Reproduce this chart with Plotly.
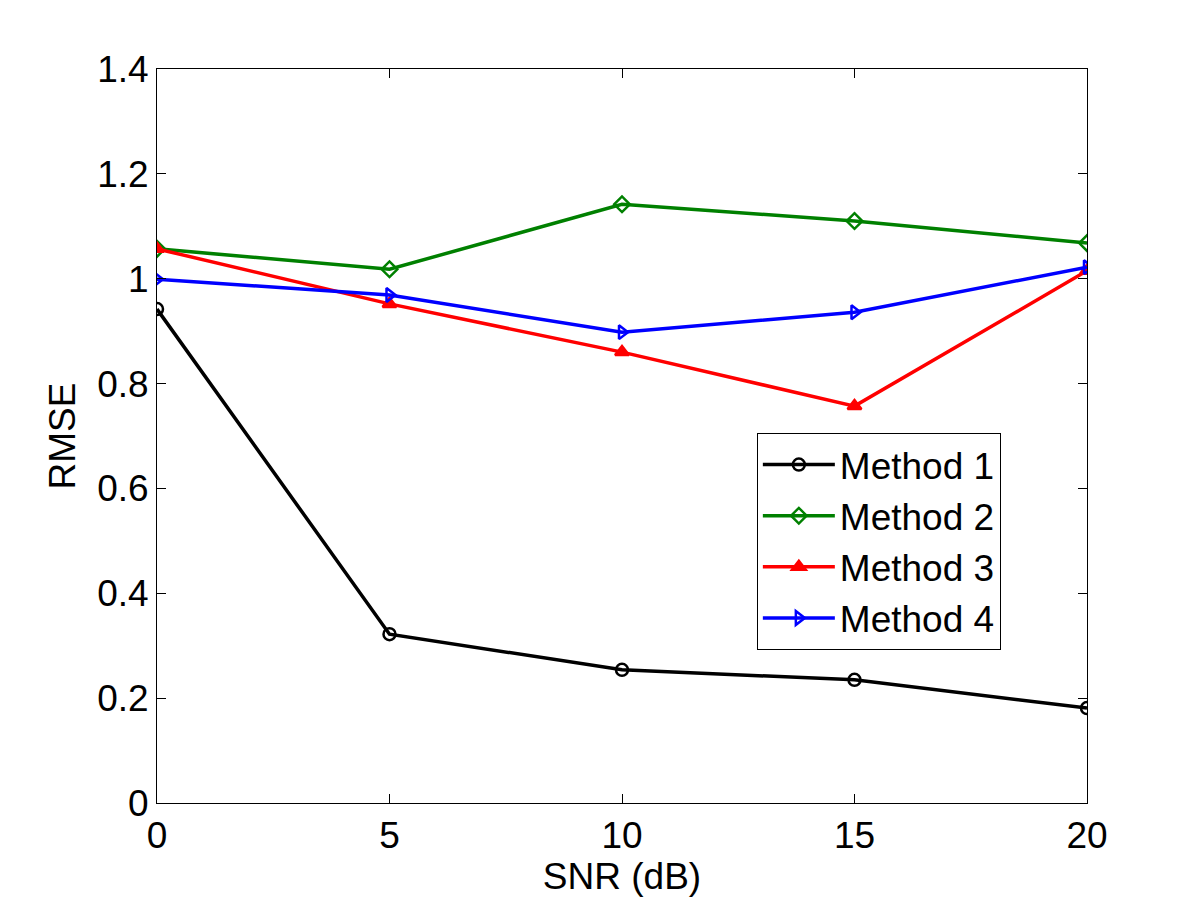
import plotly.graph_objects as go

snr = [0, 5, 10, 15, 20]
method1 = [0.942, 0.322, 0.254, 0.235, 0.181]
method2 = [1.057, 1.018, 1.142, 1.110, 1.068]
method3 = [1.057, 0.952, 0.860, 0.757, 1.015]
method4 = [0.999, 0.969, 0.898, 0.936, 1.022]

names = ["Method 1", "Method 2", "Method 3", "Method 4"]
colors = ["black", "green", "red", "blue"]
symbols = ["circle-open", "diamond-open", "triangle-up", "triangle-right-open"]
series = [method1, method2, method3, method4]

fig = go.Figure()
for name, vals, col, sym in zip(names, series, colors, symbols):
    fig.add_trace(go.Scatter(
        x=snr, y=vals, name=name, mode="lines+markers",
        line=dict(color=col, width=3.5),
        marker=dict(symbol=sym, size=12, color=col, line=dict(color=col, width=2.5)),
    ))

axis_style = dict(
    showgrid=False, zeroline=False, showline=True, linecolor="black", linewidth=1,
    mirror="ticks", ticks="inside", ticklen=9, tickcolor="black",
    tickfont=dict(size=37, color="black"),
)

fig.update_xaxes(range=[0, 20], tickvals=[0, 5, 10, 15, 20],
                 title=dict(text="SNR (dB)", font=dict(size=37, color="black"), standoff=2),
                 **axis_style)
fig.update_yaxes(range=[0, 1.4], tickvals=[0, 0.2, 0.4, 0.6, 0.8, 1, 1.2, 1.4],
                 ticktext=["0", "0.2", "0.4", "0.6", "0.8", "1", "1.2", "1.4"],
                 title=dict(text="RMSE", font=dict(size=37, color="black"), standoff=10),
                 **axis_style)

fig.update_layout(
    width=1201, height=901,
    margin=dict(l=149, r=122, t=61, b=106),
    paper_bgcolor="white", plot_bgcolor="white",
    font=dict(family="Liberation Sans, Arial, sans-serif", color="black"),
    legend=dict(x=0.645, y=0.504, xanchor="left", yanchor="top",
                bordercolor="black", borderwidth=1, bgcolor="white",
                font=dict(size=37), itemwidth=72, tracegroupgap=0),
)

fig.write_html("out.html")
